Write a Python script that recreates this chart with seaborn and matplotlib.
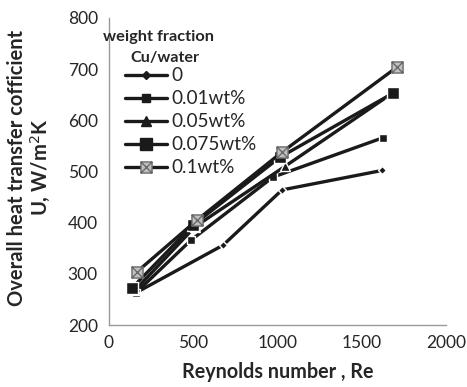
import seaborn as sns
import matplotlib.pyplot as plt
import pandas as pd
from matplotlib.lines import Line2D
from matplotlib.path import Path

# data
series_names = ['0', '0.01wt%', '0.05wt%', '0.075wt%', '0.1wt%']
re_0 = [160, 677, 1027, 1620]
u_0 = [263, 356, 464, 502]
re_001 = [160, 487, 973, 1626]
u_001 = [263, 366, 489, 566]
re_005 = [155, 510, 1044, 1668]
u_005 = [268, 392, 510, 650]
re_0075 = [136, 498, 1015, 1685]
u_0075 = [272, 395, 528, 653]
re_01 = [166, 522, 1027, 1709]
u_01 = [304, 405, 538, 704]

sns.set_style('white')
plt.rcParams['font.family'] = ['Lato', 'DejaVu Sans']

# square with an X inside (Excel style marker)
box_x = Path([(-1, -1), (1, -1), (1, 1), (-1, 1), (-1, -1),
              (-1, -1), (1, 1), (-1, 1), (1, -1)],
             [Path.MOVETO, Path.LINETO, Path.LINETO, Path.LINETO, Path.CLOSEPOLY,
              Path.MOVETO, Path.LINETO, Path.MOVETO, Path.LINETO])

fig, ax = plt.subplots(figsize=(4.67, 3.87), dpi=100)

lw = 2.4
dark = '#1a1a1a'
styles = [
    dict(marker='D', markersize=4.5, color=dark),
    dict(marker='s', markersize=6, color=dark),
    dict(marker='^', markersize=6.5, color=dark),
    dict(marker='s', markersize=9, color=dark),
    dict(marker=box_x, markersize=8, color=dark, markerfacecolor='#c0c0c0',
         markeredgecolor='#6a6a6a'),
]
data = [(re_0, u_0), (re_001, u_001), (re_005, u_005), (re_0075, u_0075), (re_01, u_01)]

handles = []
for name, (x, y), st in zip(series_names, data, styles):
    df = pd.DataFrame({'Re': x, 'U': y})
    sns.lineplot(data=df, x='Re', y='U', ax=ax, linewidth=lw, sort=False,
                 markeredgewidth=1, **st)
    handles.append(Line2D([], [], linewidth=lw, markeredgewidth=1, **st))

ax.set_xlim(0, 2000)
ax.set_ylim(200, 800)
ax.set_xticks([0, 500, 1000, 1500, 2000])
ax.set_yticks([200, 300, 400, 500, 600, 700, 800])
ax.tick_params(labelsize=12.5, length=0)
ax.tick_params(axis='x', pad=7)
ax.tick_params(axis='y', pad=8)
for s in ['top', 'right']:
    ax.spines[s].set_visible(False)
for s in ['left', 'bottom']:
    ax.spines[s].set_color('#999999')
    ax.spines[s].set_linewidth(1)

ax.set_xlabel('Reynolds number , Re', fontsize=14.2, fontweight='bold', labelpad=8)
ax.set_ylabel('Overall heat transfer cofficient\nU, W/m$^2$K', fontsize=14.5,
              fontweight='bold', linespacing=1.05)
ax.yaxis.set_label_coords(-0.17, 0.513)

# legend title, written as two separate lines like the Excel chart
fig.text(103 / 467, 1 - 37 / 387, 'weight fraction', fontsize=11.8, fontweight='bold',
         va='center', ha='left')
fig.text(130 / 467, 1 - 58 / 387, 'Cu/water', fontsize=11.6, fontweight='bold',
         va='center', ha='left')

ax.legend(handles, series_names, loc='upper left',
          bbox_to_anchor=(125 / 467, 1 - 67.3 / 387), bbox_transform=fig.transFigure,
          frameon=False, fontsize=13.6,
          handlelength=2.2, handletextpad=0.25, labelspacing=0.32,
          borderaxespad=0.0, borderpad=0.0)

plt.subplots_adjust(left=109 / 467, right=446 / 467, top=1 - 18 / 387, bottom=1 - 325 / 387)
plt.savefig('out.png', dpi=100)
